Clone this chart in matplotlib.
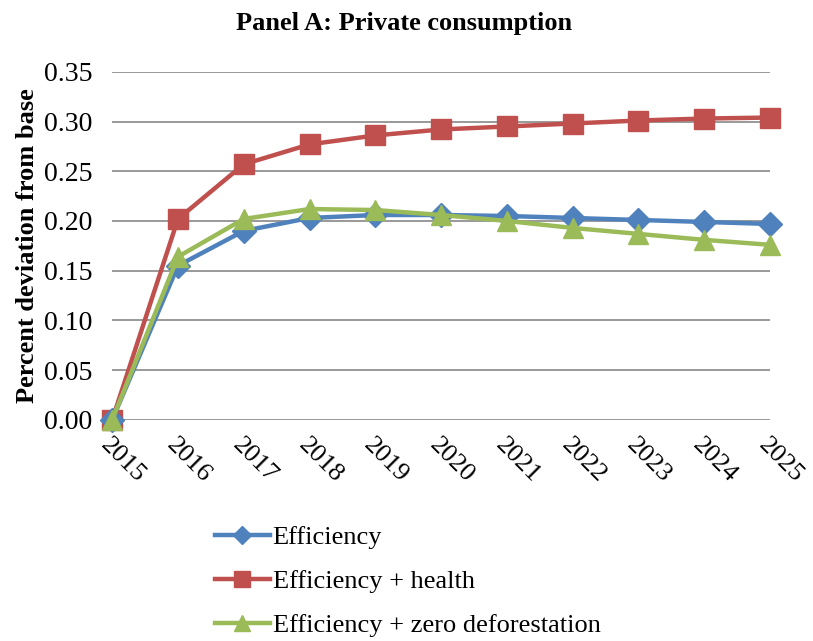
import matplotlib.pyplot as plt

years = [2015, 2016, 2017, 2018, 2019, 2020, 2021, 2022, 2023, 2024, 2025]
efficiency = [0.0, 0.155, 0.190, 0.203, 0.206, 0.206, 0.205, 0.203, 0.201, 0.199, 0.197]
eff_health = [0.0, 0.202, 0.257, 0.277, 0.286, 0.292, 0.295, 0.298, 0.301, 0.303, 0.304]
eff_zero_defor = [0.0, 0.164, 0.202, 0.212, 0.211, 0.206, 0.200, 0.193, 0.187, 0.181, 0.176]
yticks = [0.0, 0.05, 0.10, 0.15, 0.20, 0.25, 0.30, 0.35]

plt.rcParams['font.family'] = ['Liberation Serif', 'DejaVu Serif']

fig = plt.figure(figsize=(8.13, 6.41), dpi=100)
ax = fig.add_axes([0.138, 0.345, 0.809, 0.543])

ax.plot(years, efficiency, color='#4F81BD', marker='D', markersize=12, linewidth=3.2,
        label='Efficiency', clip_on=False, zorder=3)
ax.plot(years, eff_health, color='#C0504D', marker='s', markersize=14, linewidth=3.2,
        label='Efficiency + health', clip_on=False, zorder=2)
ax.plot(years, eff_zero_defor, color='#9BBB59', marker='^', markersize=14, linewidth=3.2,
        label='Efficiency + zero deforestation', clip_on=False, zorder=4)

ax.set_xlim(2015, 2025)
ax.set_ylim(0, 0.35)
ax.set_yticks(yticks)
ax.set_yticklabels(['%.2f' % v for v in yticks], fontsize=20)
ax.set_xticks(years)
ax.set_xticklabels([str(y) for y in years], fontsize=19, rotation=-45,
                   ha='left', va='top', rotation_mode='anchor')
ax.tick_params(axis='x', length=0, pad=10)
ax.tick_params(axis='y', length=0, pad=14)
ax.grid(axis='y', color='#888888', linewidth=1.2)
ax.set_axisbelow(True)
for s in ax.spines.values():
    s.set_visible(False)

ax.set_ylabel('Percent deviation from base', fontsize=19, fontweight='bold', labelpad=4)
fig.suptitle('Panel A: Private consumption', fontsize=19, fontweight='bold',
             x=0.497, y=0.982)

fig.legend(loc='upper left', bbox_to_anchor=(0.251, 0.197), frameon=False, fontsize=19,
           handlelength=2.1, handletextpad=0.1, labelspacing=0.78, borderaxespad=0,
           markerscale=0.8)

fig.savefig('out.png', dpi=100)
